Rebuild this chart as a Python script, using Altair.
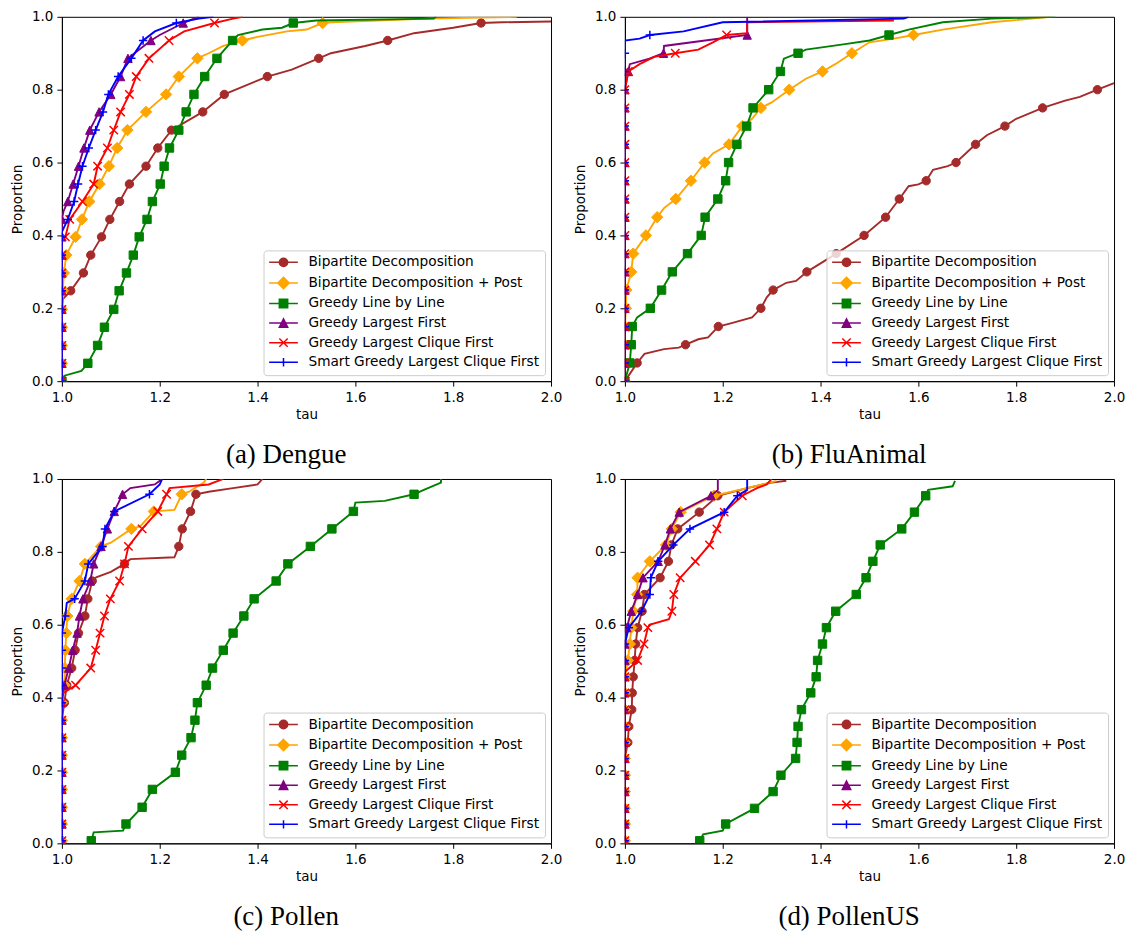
import altair as alt
import pandas as pd

SERIES = ["Bipartite Decomposition", "Bipartite Decomposition + Post", "Greedy Line by Line",
          "Greedy Largest First", "Greedy Largest Clique First", "Smart Greedy Largest Clique First"]
COLORS = ["#a52a2a", "#ffa500", "#008000", "#800080", "#ff0000", "#0000ff"]
X_TICKS = [1.0, 1.2, 1.4, 1.6, 1.8, 2.0]
Y_TICKS = [0.0, 0.2, 0.4, 0.6, 0.8, 1.0]
CAPTIONS = ["(a) Dengue", "(b) FluAnimal", "(c) Pollen", "(d) PollenUS"]

# ---------------- (a) Dengue ----------------
LEVELS_DENGUE = [0.0, 0.049, 0.098, 0.148, 0.197, 0.248, 0.297, 0.346, 0.396, 0.444, 0.493,
                 0.541, 0.590, 0.640, 0.689, 0.739, 0.787, 0.836, 0.886, 0.935, 0.983]
DENGUE_BD = [1.0, 1.0, 1.0, 1.0, 1.0, 1.018, 1.044, 1.059, 1.081, 1.098, 1.118, 1.138, 1.172,
             1.196, 1.224, 1.288, 1.332, 1.420, 1.525, 1.666, 1.857]
DENGUE_BD_X = [(1.002, 0.225), (1.47, 0.855), (1.55, 0.90), (1.62, 0.92), (1.72, 0.955),
               (1.80, 0.97), (1.9, 0.985), (2.0, 0.987)]
DENGUE_BDP = [1.0, 1.0, 1.0, 1.0, 1.0, 1.002, 1.004, 1.009, 1.028, 1.041, 1.056, 1.077, 1.096,
              1.113, 1.134, 1.172, 1.213, 1.239, 1.277, 1.369, 1.533]
DENGUE_BDP_X = [(1.30, 0.90), (1.33, 0.92), (1.40, 0.945), (1.46, 0.96), (1.50, 0.965),
                (1.55, 0.985), (1.75, 0.995), (1.93, 1.0)]
DENGUE_GLL = [1.0, 1.053, 1.073, 1.087, 1.106, 1.117, 1.132, 1.146, 1.158, 1.174, 1.185, 1.201,
              1.209, 1.220, 1.239, 1.254, 1.270, 1.292, 1.317, 1.349, 1.473]
DENGUE_GLL_X = [(1.005, 0.015), (1.04, 0.028), (1.36, 0.95), (1.41, 0.965), (1.45, 0.97),
                (1.52, 0.99), (1.76, 0.995), (1.765, 1.0)]
DENGUE_GLF = [1.0, 1.0, 1.0, 1.0, 1.0, 1.0, 1.0, 1.0, 1.0, 1.0, 1.012, 1.023, 1.034, 1.045,
              1.057, 1.076, 1.100, 1.120, 1.135, 1.182, 1.248]
DENGUE_GLF_X = [(1.003, 0.465), (1.20, 0.95), (1.27, 0.995), (1.28, 1.0)]
DENGUE_GLCF = [1.0, 1.0, 1.0, 1.0, 1.0, 1.0, 1.0, 1.0, 1.007, 1.016, 1.042, 1.065, 1.073, 1.093,
               1.106, 1.120, 1.138, 1.152, 1.178, 1.219, 1.312]
DENGUE_GLCF_X = [(1.0, 0.385), (1.25, 0.96), (1.35, 0.995), (1.37, 1.0)]
DENGUE_SGLCF = [1.0, 1.0, 1.0, 1.0, 1.0, 1.0, 1.0, 1.0, 1.0, 1.012, 1.025, 1.033, 1.042, 1.055,
                1.069, 1.084, 1.095, 1.115, 1.142, 1.166, 1.234]
DENGUE_SGLCF_X = [(1.0, 0.41), (1.19, 0.96), (1.28, 0.995), (1.31, 1.0)]

# ---------------- (b) FluAnimal ----------------
LEVELS_FLU = [0.0, 0.05, 0.10, 0.15, 0.20, 0.25, 0.30, 0.35, 0.40, 0.45, 0.50, 0.55, 0.60,
              0.65, 0.70, 0.75, 0.80, 0.85, 0.90, 0.95]
FLU_BD = [1.0, 1.025, 1.124, 1.191, 1.278, 1.303, 1.372, 1.432, 1.489, 1.533, 1.561, 1.616,
          1.677, 1.717, 1.777, 1.854, 1.966, None, None, None]
FLU_BD_X = [(1.01, 0.02), (1.04, 0.075), (1.08, 0.088), (1.11, 0.092), (1.15, 0.115),
            (1.17, 0.12), (1.22, 0.16), (1.26, 0.175), (1.29, 0.23), (1.33, 0.27), (1.35, 0.275),
            (1.58, 0.535), (1.60, 0.54), (1.63, 0.58), (1.66, 0.59), (1.74, 0.675), (1.80, 0.72),
            (1.90, 0.77), (1.93, 0.78), (2.0, 0.818)]
FLU_BDP = [1.0, 1.0, 1.0, 1.0, 1.002, 1.003, 1.013, 1.017, 1.043, 1.066, 1.104, 1.135, 1.163,
           1.213, 1.240, 1.278, 1.336, 1.404, 1.464, 1.590]
FLU_BDP_X = [(1.08, 0.475), (1.18, 0.625), (1.26, 0.72), (1.30, 0.765), (1.37, 0.83),
             (1.43, 0.87), (1.50, 0.93), (1.55, 0.94), (1.65, 0.965), (1.75, 0.985), (1.87, 1.0)]
FLU_GLL = [1.0, 1.010, 1.013, 1.015, 1.052, 1.075, 1.097, 1.128, 1.156, 1.164, 1.190, 1.206,
           1.212, 1.229, 1.249, 1.262, 1.294, 1.318, 1.354, 1.540]
FLU_GLL_X = [(1.025, 0.175), (1.325, 0.885), (1.37, 0.91), (1.45, 0.925), (1.50, 0.935),
             (1.58, 0.965), (1.65, 0.985), (1.75, 0.995), (1.88, 1.0)]
FLU_GLF = [1.0, 1.0, 1.0, 1.0, 1.0, 1.0, 1.0, 1.0, 1.0, 1.0, 1.0, 1.0, 1.0, 1.0, 1.0, 1.0, 1.0,
           1.007, 1.079, 1.250]
FLU_GLF_X = [(1.01, 0.87), (1.05, 0.885), (1.08, 0.92), (1.25, 1.0)]
FLU_GLCF = [1.0, 1.0, 1.0, 1.0, 1.0, 1.0, 1.0, 1.0, 1.0, 1.0, 1.0, 1.0, 1.0, 1.0, 1.0, 1.0, 1.0,
            1.007, 1.103, 1.208]
FLU_GLCF_X = [(1.03, 0.87), (1.06, 0.89), (1.15, 0.91), (1.18, 0.93), (1.25, 0.955),
              (1.25, 0.985), (1.55, 0.99)]
FLU_SGLCF = [1.0, 1.0, 1.0, 1.0, 1.0, 1.0, 1.0, 1.0, 1.0, 1.0, 1.0, 1.0, 1.0, 1.0, 1.0, 1.0,
             1.0, 1.0, 1.0, 1.051]
FLU_SGLCF_X = [(1.0, 0.935), (1.03, 0.94), (1.12, 0.96), (1.20, 0.985), (1.57, 0.995), (1.58, 1.0)]

# ---------------- (c) Pollen ----------------
LEVELS_POLLEN = [0.007, 0.053, 0.099, 0.148, 0.195, 0.242, 0.290, 0.338, 0.386, 0.434, 0.481,
                 0.530, 0.577, 0.624, 0.671, 0.720, 0.767, 0.815, 0.863, 0.911, 0.958]
POLLEN_BD = [1.0, 1.0, 1.0, 1.0, 1.0, 1.0, 1.0, 1.0, 1.005, 1.010, 1.020, 1.027, 1.034, 1.047,
             1.053, 1.062, 1.128, 1.239, 1.246, 1.263, 1.274]
POLLEN_BD_X = [(1.07, 0.73), (1.10, 0.745), (1.14, 0.78), (1.23, 0.785), (1.30, 0.965),
               (1.35, 0.975), (1.40, 0.985), (1.41, 1.0)]
POLLEN_BDP = [1.0, 1.0, 1.0, 1.0, 1.0, 1.0, 1.0, 1.0, 1.0, 1.005, 1.006, 1.007, 1.009, 1.011,
              1.020, 1.036, 1.047, 1.080, 1.142, 1.188, 1.245]
POLLEN_BDP_X = [(1.10, 0.825), (1.16, 0.87), (1.23, 0.915), (1.26, 0.965), (1.29, 0.99),
                (1.295, 1.0)]
POLLEN_GLL = [1.060, 1.131, 1.164, 1.185, 1.232, 1.245, 1.264, 1.272, 1.277, 1.295, 1.308,
              1.330, 1.350, 1.372, 1.393, 1.438, 1.462, 1.508, 1.552, 1.596, 1.720]
POLLEN_GLL_X = [(1.06, 0.0), (1.065, 0.03), (1.125, 0.035), (1.60, 0.935), (1.66, 0.94),
                (1.74, 0.97), (1.775, 0.99), (1.775, 1.0)]
POLLEN_GLF = [1.0, 1.0, 1.0, 1.0, 1.0, 1.0, 1.0, 1.0, 1.0, 1.005, 1.014, 1.022, 1.031, 1.036,
              1.043, 1.058, 1.065, 1.080, 1.093, 1.107, 1.124]
POLLEN_GLF_X = [(1.14, 0.975), (1.19, 0.985), (1.205, 1.0)]
POLLEN_GLCF = [1.0, 1.0, 1.0, 1.0, 1.0, 1.0, 1.0, 1.0, 1.0, 1.028, 1.059, 1.069, 1.078, 1.087,
               1.099, 1.118, 1.128, 1.136, 1.164, 1.196, 1.214]
POLLEN_GLCF_X = [(1.0, 0.41), (1.22, 0.975), (1.30, 0.985), (1.33, 1.0)]
POLLEN_SGLCF = [1.0, 1.0, 1.0, 1.0, 1.0, 1.0, 1.0, 1.0, 1.0, 1.0, 1.0, 1.0, 1.0, 1.007, 1.026,
                1.047, 1.054, 1.083, 1.088, 1.107, 1.179]
POLLEN_SGLCF_X = [(1.01, 0.66), (1.20, 0.985), (1.205, 1.0)]

# ---------------- (d) PollenUS ----------------
LEVELS_PUS = [0.007, 0.053, 0.096, 0.142, 0.187, 0.233, 0.277, 0.321, 0.367, 0.413, 0.457,
              0.502, 0.547, 0.592, 0.637, 0.683, 0.729, 0.774, 0.819, 0.863, 0.909, 0.954]
PUS_BD = [1.0, 1.0, 1.0, 1.0, 1.0, 1.0, 1.006, 1.008, 1.014, 1.015, 1.017, 1.020, 1.022, 1.026,
          1.035, 1.040, 1.072, 1.089, 1.095, 1.108, 1.152, 1.190]
PUS_BD_X = [(1.25, 0.975), (1.30, 0.99), (1.33, 0.995)]
PUS_BDP = [1.0, 1.0, 1.0, 1.0, 1.0, 1.0, 1.0, 1.0, 1.0, 1.0, 1.0, 1.006, 1.010, 1.013, 1.017,
           1.025, 1.026, 1.051, 1.084, 1.096, 1.114, 1.182]
PUS_BDP_X = [(1.25, 0.975), (1.31, 0.995)]
PUS_GLL = [1.153, 1.206, 1.265, 1.303, 1.319, 1.349, 1.352, 1.354, 1.361, 1.380, 1.391, 1.394,
           1.404, 1.412, 1.431, 1.473, 1.493, 1.507, 1.522, 1.566, 1.592, 1.615]
PUS_GLL_X = [(1.16, 0.025), (1.20, 0.035), (1.62, 0.97), (1.67, 0.98), (1.675, 0.995)]
PUS_GLF = [1.0, 1.0, 1.0, 1.0, 1.0, 1.0, 1.0, 1.0, 1.0, 1.0, 1.0, 1.0, 1.0, 1.004, 1.013,
           1.026, 1.037, 1.068, 1.082, 1.093, 1.111, 1.176]
PUS_GLF_X = [(1.19, 0.97), (1.19, 1.0)]
PUS_GLCF = [1.0, 1.0, 1.0, 1.0, 1.0, 1.0, 1.0, 1.0, 1.0, 1.0, 1.0, 1.026, 1.039, 1.047, 1.096,
            1.100, 1.113, 1.144, 1.173, 1.188, 1.203, 1.240]
PUS_GLCF_X = [(1.0, 0.47), (1.05, 0.60), (1.09, 0.615), (1.27, 0.975), (1.29, 0.985), (1.30, 1.0)]
PUS_SGLCF = [1.0, 1.0, 1.0, 1.0, 1.0, 1.0, 1.0, 1.0, 1.0, 1.0, 1.0, 1.0, 1.0, 1.008, 1.034,
             1.051, 1.053, 1.068, 1.099, 1.133, 1.203, 1.230]
PUS_SGLCF_X = [(1.25, 0.97), (1.25, 1.0)]

PANELS = [
    (LEVELS_DENGUE, [DENGUE_BD, DENGUE_BDP, DENGUE_GLL, DENGUE_GLF, DENGUE_GLCF, DENGUE_SGLCF],
     [DENGUE_BD_X, DENGUE_BDP_X, DENGUE_GLL_X, DENGUE_GLF_X, DENGUE_GLCF_X, DENGUE_SGLCF_X]),
    (LEVELS_FLU, [FLU_BD, FLU_BDP, FLU_GLL, FLU_GLF, FLU_GLCF, FLU_SGLCF],
     [FLU_BD_X, FLU_BDP_X, FLU_GLL_X, FLU_GLF_X, FLU_GLCF_X, FLU_SGLCF_X]),
    (LEVELS_POLLEN, [POLLEN_BD, POLLEN_BDP, POLLEN_GLL, POLLEN_GLF, POLLEN_GLCF, POLLEN_SGLCF],
     [POLLEN_BD_X, POLLEN_BDP_X, POLLEN_GLL_X, POLLEN_GLF_X, POLLEN_GLCF_X, POLLEN_SGLCF_X]),
    (LEVELS_PUS, [PUS_BD, PUS_BDP, PUS_GLL, PUS_GLF, PUS_GLCF, PUS_SGLCF],
     [PUS_BD_X, PUS_BDP_X, PUS_GLL_X, PUS_GLF_X, PUS_GLCF_X, PUS_SGLCF_X]),
]

# marker glyphs (unit square paths), and legend glyphs = line segment + marker
MARKER_PATHS = [
    "M0.7,0A0.7,0.7,0,1,1,-0.7,0A0.7,0.7,0,1,1,0.7,0Z",
    "M0,-0.95L0.95,0L0,0.95L-0.95,0Z",
    "M-0.7,-0.7L0.7,-0.7L0.7,0.7L-0.7,0.7Z",
    "M0,-0.7L0.7,0.7L-0.7,0.7Z",
    "M-0.7,-0.7L0.7,0.7M-0.7,0.7L0.7,-0.7",
    "M-0.7,0L0.7,0M0,-0.7L0,0.7",
]
MARKER_STROKE = [1.0, 1.0, 1.0, 1.0, 1.5, 1.5]
LEGEND_PATHS = ["M-2.4,0L2.4,0" + p for p in MARKER_PATHS]


def make_panel(levels, taus_list, extras_list, caption):
    rows = []
    for s, taus, extras in zip(SERIES, taus_list, extras_list):
        for lv, t in zip(levels, taus):
            if t is not None:
                rows.append({"series": s, "tau": t, "p": lv, "marker": True})
        for t, lv in extras:
            rows.append({"series": s, "tau": t, "p": lv, "marker": False})
    df = pd.DataFrame(rows)
    df["sidx"] = df["series"].map({s: i for i, s in enumerate(SERIES)})
    df = df.sort_values(["sidx", "p", "tau"]).reset_index(drop=True)
    df["ord"] = range(len(df))

    x = alt.X("tau:Q", scale=alt.Scale(domain=[1, 2], nice=False, zero=False),
              axis=alt.Axis(values=X_TICKS, format=".1f", title="tau"))
    y = alt.Y("p:Q", scale=alt.Scale(domain=[0, 1], nice=False, zero=False),
              axis=alt.Axis(values=Y_TICKS, format=".1f", title="Proportion", titlePadding=7))
    base = alt.Chart(df)
    layers = []
    for i, s in enumerate(SERIES):
        sub = base.transform_filter(alt.datum.series == s)
        layers.append(sub.mark_line(color=COLORS[i], strokeWidth=1.9, clip=True)
                      .encode(x=x, y=y, order="ord:Q"))
        layers.append(sub.transform_filter(alt.datum.marker == True)
                      .mark_point(shape=MARKER_PATHS[i], size=144, filled=True, fill=COLORS[i],
                                  stroke=COLORS[i], strokeWidth=MARKER_STROKE[i], opacity=1,
                                  clip=True)
                      .encode(x=x, y=y))
    leg = alt.Legend(title=None)
    legend_layer = base.transform_filter("false").mark_point(filled=True, opacity=1).encode(
        x=x, y=y,
        fill=alt.Fill("series:N", scale=alt.Scale(domain=SERIES, range=COLORS), legend=leg),
        stroke=alt.Stroke("series:N", scale=alt.Scale(domain=SERIES, range=COLORS), legend=leg),
        shape=alt.Shape("series:N", scale=alt.Scale(domain=SERIES, range=LEGEND_PATHS), legend=leg),
    )
    layers.append(legend_layer)
    return alt.layer(*layers).properties(
        width=490, height=365,
        title=alt.TitleParams(caption, orient="bottom", anchor="middle", frame="bounds",
                              baseline="top", offset=21),
    )


panels = [make_panel(lv, t, e, c) for (lv, t, e), c in zip(PANELS, CAPTIONS)]
ind = dict(fill="independent", stroke="independent", shape="independent")
row1 = alt.hconcat(panels[0], panels[1], spacing=10).resolve_scale(**ind)
row2 = alt.hconcat(panels[2], panels[3], spacing=10).resolve_scale(**ind)
chart = alt.vconcat(row1, row2, spacing=2).resolve_scale(**ind).properties(
    padding={"left": 2, "top": 0, "right": 0, "bottom": 0}, background="white"
).configure_view(stroke="black", strokeWidth=1).configure_axis(
    labelFont="DejaVu Sans", labelFontSize=13.5, labelColor="black",
    titleFont="DejaVu Sans", titleFontSize=13.5, titleFontWeight="normal", titleColor="black",
    domainColor="black", tickColor="black", tickSize=5, labelPadding=4, titlePadding=4,
    grid=False, domainWidth=1, tickWidth=1, labelFlush=False, labelOverlap=False,
).configure_legend(
    orient="bottom-right", offset=6, labelFont="DejaVu Sans", labelFontSize=13.7,
    labelColor="black", labelLimit=400, symbolSize=144, symbolStrokeWidth=1.5,
    padding=5, rowPadding=3.6, symbolOffset=8, labelOffset=18,
    fillColor="rgba(255,255,255,0.8)", strokeColor="#cccccc", cornerRadius=3,
).configure_title(
    font="Liberation Serif", fontSize=27, fontWeight="normal", color="black",
)

chart.save("out.html", embed_options={"renderer": "svg", "actions": False})
